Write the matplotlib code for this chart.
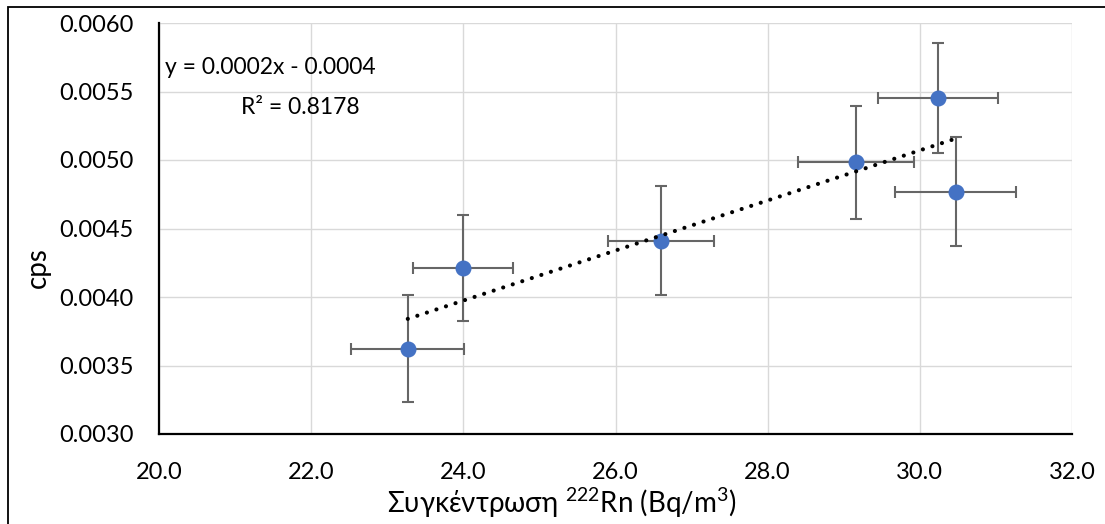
import numpy as np
import matplotlib
matplotlib.use("Agg")
import matplotlib.pyplot as plt
from matplotlib.patches import Rectangle

# data
radon = [23.27, 24.00, 26.60, 29.16, 30.24, 30.47]
cps = [0.003624, 0.004212, 0.004411, 0.004982, 0.005451, 0.004770]
radon_err = [0.745, 0.657, 0.695, 0.765, 0.79, 0.79]
cps_err = [0.00039, 0.00039, 0.00040, 0.00041, 0.00040, 0.00040]
x_ticks = [20.0, 22.0, 24.0, 26.0, 28.0, 30.0, 32.0]
y_ticks = [0.0030, 0.0035, 0.0040, 0.0045, 0.0050, 0.0055, 0.0060]
eq_text = "y = 0.0002x - 0.0004"
r2_text = "R² = 0.8178"

plt.rcParams['font.family'] = ['Lato', 'DejaVu Sans']
plt.rcParams['mathtext.fontset'] = 'custom'
plt.rcParams['mathtext.rm'] = 'Lato'
plt.rcParams['mathtext.it'] = 'Lato:italic'
plt.rcParams['mathtext.bf'] = 'Lato:bold'

fig = plt.figure(figsize=(11.05, 5.24), dpi=100)
ax = fig.add_axes([159/1105, 1-434/524, (1072-159)/1105, (434-23)/524])

ax.set_xlim(20, 32)
ax.set_ylim(0.0030, 0.0060)
ax.set_xticks(x_ticks)
ax.set_yticks(y_ticks)
ax.set_xticklabels([f"{v:.1f}" for v in x_ticks])
ax.set_yticklabels([f"{v:.4f}" for v in y_ticks])
ax.tick_params(length=0, labelsize=17, colors='#000000')
ax.tick_params(axis='y', pad=18)
ax.tick_params(axis='x', pad=20)
ax.grid(True, color='#d9d9d9', lw=1.0)
ax.set_axisbelow(True)
for s in ['top', 'right']:
    ax.spines[s].set_visible(False)
for s in ['left', 'bottom']:
    ax.spines[s].set_linewidth(1.6)
    ax.spines[s].set_color('black')

ax.errorbar(radon, cps, xerr=radon_err, yerr=cps_err, fmt='none',
            ecolor='#666666', elinewidth=1.5, capsize=4, capthick=1.5, zorder=2)
ax.plot(radon, cps, 'o', color='#4472C4', markersize=10.5, zorder=3)

slope, intercept = np.polyfit(radon, cps, 1)
xs = np.array([min(radon), max(radon)])
ax.plot(xs, slope*xs + intercept, color='black', lw=3,
        linestyle=(0, (0.01, 2.4)), dash_capstyle='round', zorder=4)

fig.text(270/1105, 1-67/524, eq_text, ha='center', va='center', fontsize=16.5)
fig.text(300/1105, 1-107/524, r2_text, ha='center', va='center', fontsize=16.5)

fig.text(38/1105, 1-268/524, "cps", rotation=90, ha='center', va='center', fontsize=20)
fig.text(562/1105, 1-503/524, "Συγκέντρωση $\\mathregular{^{222}}$Rn (Bq/m$\\mathregular{^{3}}$)",
         ha='center', va='center', fontsize=20)

fig.add_artist(Rectangle((8/1105, -0.1), 1.2, 1-7/524+0.1, transform=fig.transFigure,
                         fill=False, edgecolor='black', lw=1.3))

fig.savefig("out.png", dpi=100)
